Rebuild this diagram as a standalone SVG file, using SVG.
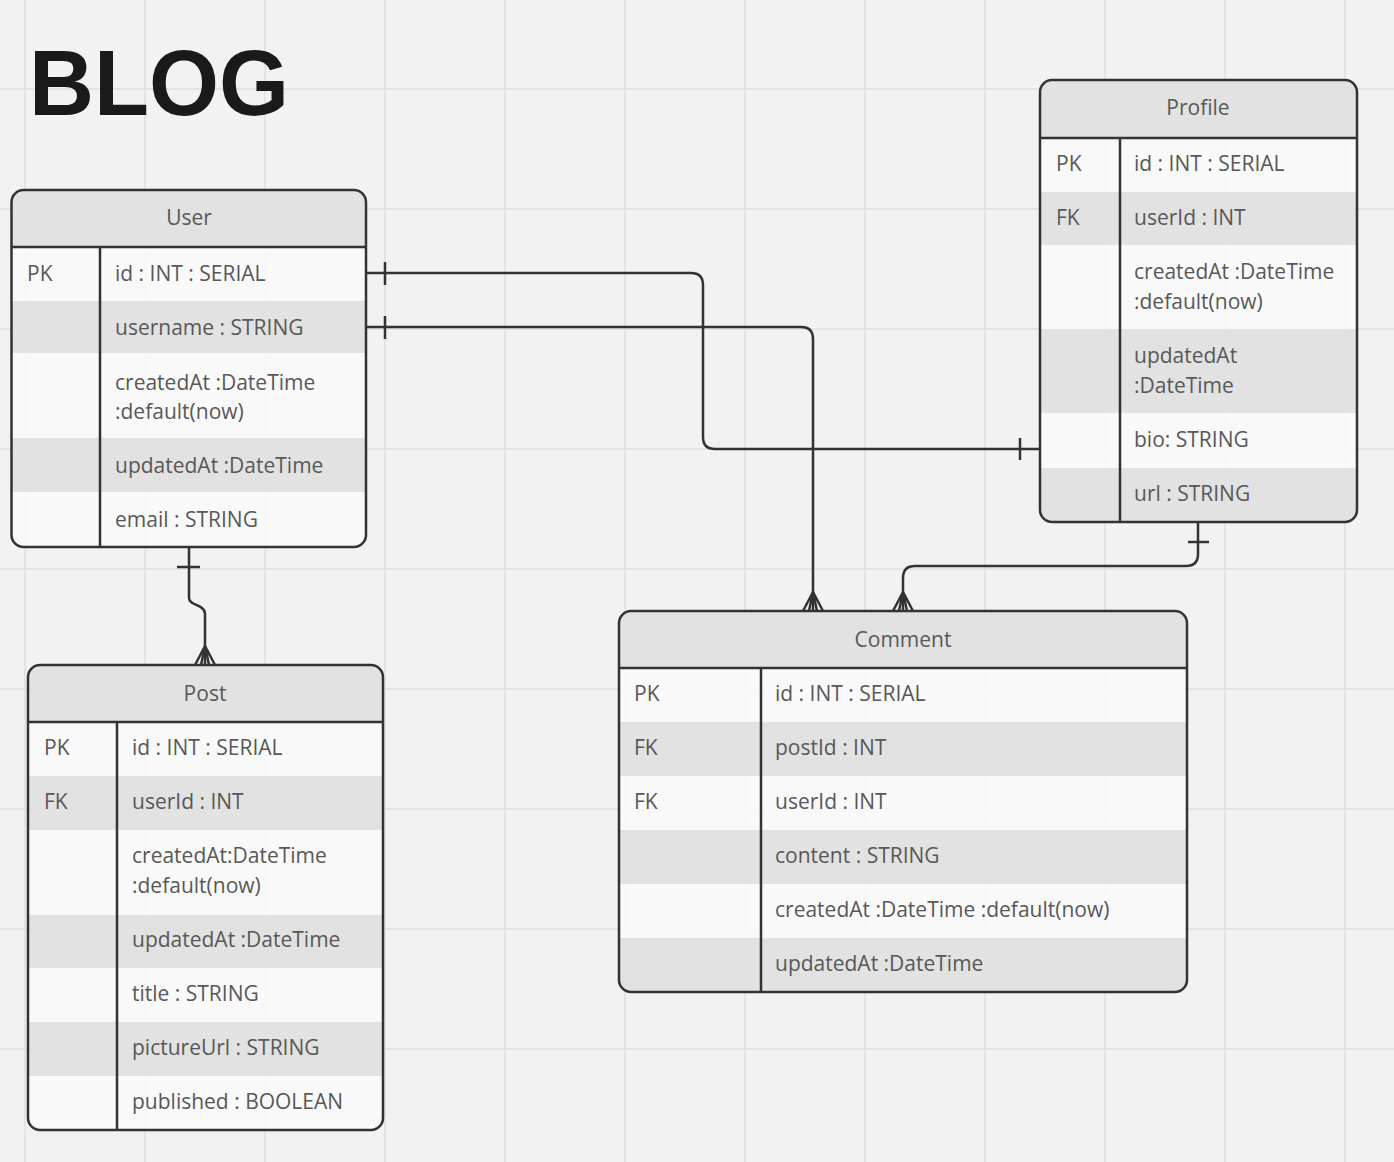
<svg xmlns="http://www.w3.org/2000/svg" width="1394" height="1162" viewBox="0 0 1394 1162">
<style>
.grid{stroke:#e0e0e0;stroke-width:1.5}
.lt{fill:#fafafa;fill-opacity:0.85}
.dk{fill:#e0e0e0;fill-opacity:0.9}
.hd{fill:#e0e0e0;fill-opacity:0.9}
.frame{fill:none;stroke:#333;stroke-width:2.5}
.ln{stroke:#333;stroke-width:2.5;fill:none}
.t{font-family:"Open Sans","Noto Sans","DejaVu Sans",sans-serif;font-size:21px;fill:#585858}
.h{font-family:"Open Sans","Noto Sans","DejaVu Sans",sans-serif;font-size:21px;fill:#585858;text-anchor:middle}
.title{font-family:"Liberation Sans",Arial,sans-serif;font-weight:bold;font-size:90px;fill:#1a1a1a}
.conn{stroke:#333;stroke-width:2.5;fill:none;stroke-linejoin:round}
</style>
<defs>
<clipPath id="cu"><rect x="11.5" y="190" width="354.5" height="357" rx="12"/></clipPath>
<clipPath id="cp"><rect x="1040" y="80" width="317" height="442" rx="12"/></clipPath>
<clipPath id="cc"><rect x="619" y="611" width="568" height="381" rx="12"/></clipPath>
<clipPath id="cq"><rect x="28" y="665" width="355" height="465" rx="12"/></clipPath>
</defs>
<rect x="0" y="0" width="1394" height="1162" fill="#f2f2f2"/>
<g id="grid">
<path class="grid" d="M25,0V1162M145,0V1162M265,0V1162M385,0V1162M505,0V1162M625,0V1162M745,0V1162M865,0V1162M985,0V1162M1105,0V1162M1225,0V1162M1345,0V1162"/>
<path class="grid" d="M0,89H1394M0,209H1394M0,329H1394M0,449H1394M0,569H1394M0,689H1394M0,809H1394M0,929H1394M0,1049H1394"/>
</g>
<text id="title" class="title" x="29" y="115" transform="translate(0,115) scale(1,1.04) translate(0,-115)">BLOG</text>

<g id="user">
<g clip-path="url(#cu)">
<rect class="hd" x="11.5" y="190" width="354.5" height="57"/>
<rect class="lt" x="11.5" y="247" width="354.5" height="54"/>
<rect class="dk" x="11.5" y="301" width="354.5" height="52"/>
<rect class="lt" x="11.5" y="353" width="354.5" height="85"/>
<rect class="dk" x="11.5" y="438" width="354.5" height="54"/>
<rect class="lt" x="11.5" y="492" width="354.5" height="55"/>
</g>
<rect class="frame" x="11.5" y="190" width="354.5" height="357" rx="12"/>
<path class="ln" d="M11.5,247H366M100,247V547"/>
<text class="h" x="189" y="225">User</text>
<text class="t" x="27" y="281">PK</text>
<text class="t" x="115" y="281">id : INT : SERIAL</text>
<text class="t" x="115" y="335">username : STRING</text>
<text class="t" x="115" y="390">createdAt :DateTime</text>
<text class="t" x="115" y="419">:default(now)</text>
<text class="t" x="115" y="473">updatedAt :DateTime</text>
<text class="t" x="115" y="527">email : STRING</text>
</g>

<g id="profile">
<g clip-path="url(#cp)">
<rect class="hd" x="1040" y="80" width="317" height="58"/>
<rect class="lt" x="1040" y="138" width="317" height="54"/>
<rect class="dk" x="1040" y="192" width="317" height="53"/>
<rect class="lt" x="1040" y="245" width="317" height="84"/>
<rect class="dk" x="1040" y="329" width="317" height="84"/>
<rect class="lt" x="1040" y="413" width="317" height="55"/>
<rect class="dk" x="1040" y="468" width="317" height="54"/>
</g>
<rect class="frame" x="1040" y="80" width="317" height="442" rx="12"/>
<path class="ln" d="M1040,138H1357M1120,138V522"/>
<text class="h" x="1198" y="115">Profile</text>
<text class="t" x="1056" y="171">PK</text>
<text class="t" x="1134" y="171">id : INT : SERIAL</text>
<text class="t" x="1056" y="225">FK</text>
<text class="t" x="1134" y="225">userId : INT</text>
<text class="t" x="1134" y="279">createdAt :DateTime</text>
<text class="t" x="1134" y="309">:default(now)</text>
<text class="t" x="1134" y="363">updatedAt</text>
<text class="t" x="1134" y="393">:DateTime</text>
<text class="t" x="1134" y="447">bio: STRING</text>
<text class="t" x="1134" y="501">url : STRING</text>
</g>

<g id="comment">
<g clip-path="url(#cc)">
<rect class="hd" x="619" y="611" width="568" height="57"/>
<rect class="lt" x="619" y="668" width="568" height="54"/>
<rect class="dk" x="619" y="722" width="568" height="54"/>
<rect class="lt" x="619" y="776" width="568" height="54"/>
<rect class="dk" x="619" y="830" width="568" height="54"/>
<rect class="lt" x="619" y="884" width="568" height="54"/>
<rect class="dk" x="619" y="938" width="568" height="54"/>
</g>
<rect class="frame" x="619" y="611" width="568" height="381" rx="12"/>
<path class="ln" d="M619,668H1187M761,668V992"/>
<text class="h" x="903" y="647">Comment</text>
<text class="t" x="634" y="701">PK</text>
<text class="t" x="775" y="701">id : INT : SERIAL</text>
<text class="t" x="634" y="755">FK</text>
<text class="t" x="775" y="755">postId : INT</text>
<text class="t" x="634" y="809">FK</text>
<text class="t" x="775" y="809">userId : INT</text>
<text class="t" x="775" y="863">content : STRING</text>
<text class="t" x="775" y="917">createdAt :DateTime :default(now)</text>
<text class="t" x="775" y="971">updatedAt :DateTime</text>
</g>

<g id="post">
<g clip-path="url(#cq)">
<rect class="hd" x="28" y="665" width="355" height="57"/>
<rect class="lt" x="28" y="722" width="355" height="54"/>
<rect class="dk" x="28" y="776" width="355" height="54"/>
<rect class="lt" x="28" y="830" width="355" height="85"/>
<rect class="dk" x="28" y="915" width="355" height="53"/>
<rect class="lt" x="28" y="968" width="355" height="54"/>
<rect class="dk" x="28" y="1022" width="355" height="54"/>
<rect class="lt" x="28" y="1076" width="355" height="54"/>
</g>
<rect class="frame" x="28" y="665" width="355" height="465" rx="12"/>
<path class="ln" d="M28,722H383M117,722V1130"/>
<text class="h" x="205" y="701">Post</text>
<text class="t" x="44" y="755">PK</text>
<text class="t" x="132" y="755">id : INT : SERIAL</text>
<text class="t" x="44" y="809">FK</text>
<text class="t" x="132" y="809">userId : INT</text>
<text class="t" x="132" y="863">createdAt:DateTime</text>
<text class="t" x="132" y="893">:default(now)</text>
<text class="t" x="132" y="947">updatedAt :DateTime</text>
<text class="t" x="132" y="1001">title : STRING</text>
<text class="t" x="132" y="1055">pictureUrl : STRING</text>
<text class="t" x="132" y="1109">published : BOOLEAN</text>
</g>

<g id="connectors">
<path class="conn" d="M366,273H691Q703,273 703,285V437Q703,449 715,449H1040"/>
<path class="conn" d="M385,262V285M1020,438V460"/>
<path class="conn" d="M366,327H801Q813,327 813,339V611"/>
<path class="conn" d="M385,316V339M803,611L813,592L823,611M809,611L813,592L817,611"/>
<path class="conn" d="M1198,522V554Q1198,566 1186,566H915Q903,566 903,578V611"/>
<path class="conn" d="M1188,542H1209M893,611L903,592L913,611M899,611L903,592L907,611"/>
<path class="conn" d="M189,547V598C189,606 205,604 205,614V665"/>
<path class="conn" d="M177,567H200M195,665L205,646L215,665M201,665L205,646L209,665"/>
</g>
</svg>
